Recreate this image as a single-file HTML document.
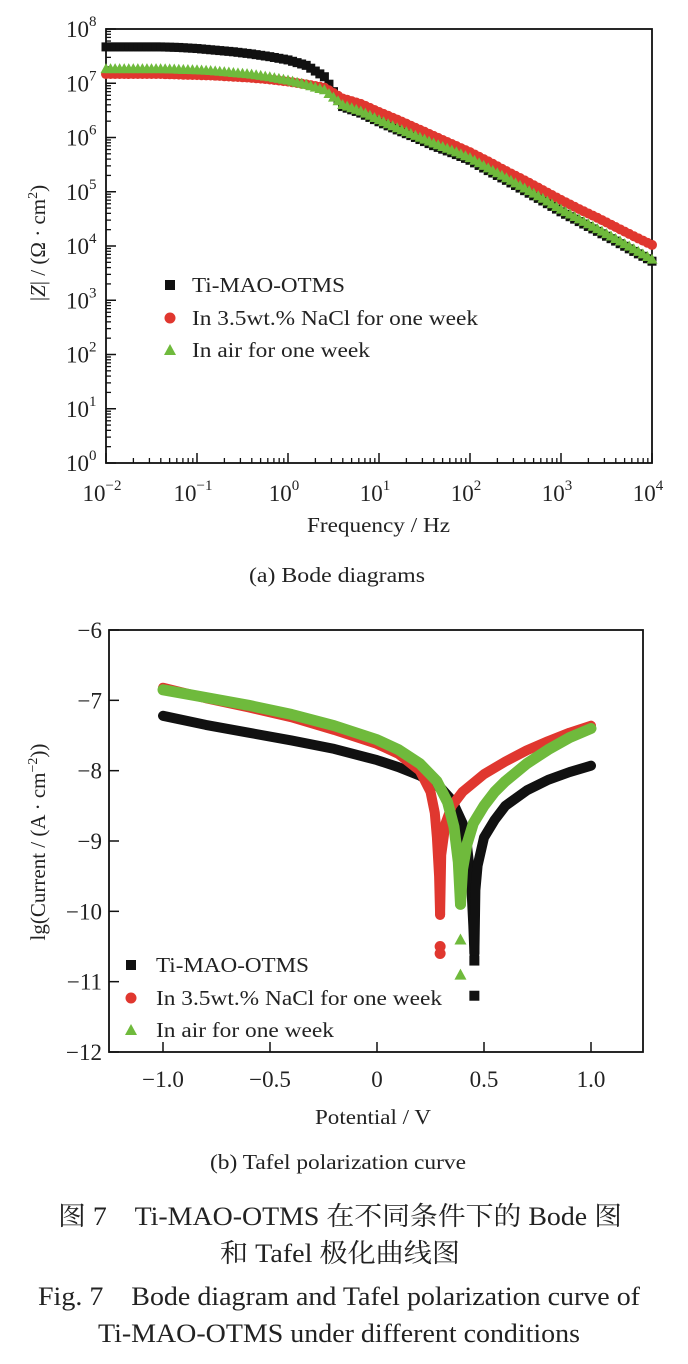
<!DOCTYPE html>
<html><head><meta charset="utf-8"><style>
html,body{margin:0;padding:0;background:#fff}
svg{display:block;font-family:"Liberation Serif","Noto Serif CJK SC",serif}
</style></head><body>
<svg id="fig" width="688" height="1364" viewBox="0 0 688 1364" xmlns="http://www.w3.org/2000/svg">
<g id="bode"></g>
<g id="tafel"></g>
<g fill="#222">
<text x="58" y="1225" font-size="26" textLength="564" lengthAdjust="spacingAndGlyphs">图 7　Ti-MAO-OTMS 在不同条件下的 Bode 图</text>
<text x="220" y="1262" font-size="26" textLength="240" lengthAdjust="spacingAndGlyphs">和 Tafel 极化曲线图</text>
<text x="38" y="1305" font-size="26" textLength="602" lengthAdjust="spacingAndGlyphs">Fig. 7　Bode diagram and Tafel polarization curve of</text>
<text x="98" y="1342" font-size="26" textLength="482" lengthAdjust="spacingAndGlyphs">Ti-MAO-OTMS under different conditions</text>
</g>
</svg>
<script>
// ---- Bode data (log10 f, log10 |Z|) ----
const bodeLogF = [-2,-1.8,-1.6,-1.4,-1.2,-1.0,-0.8,-0.6,-0.4,-0.2,0,0.2,0.4,0.6,0.8,1.0,1.2,1.4,1.6,1.8,2.0,2.2,2.4,2.6,2.8,3.0,3.2,3.4,3.6,3.8,4.0];
const bodeBlack = [7.67,7.67,7.67,7.67,7.66,7.64,7.61,7.58,7.54,7.49,7.43,7.33,7.12,6.57,6.45,6.29,6.14,6.0,5.85,5.72,5.58,5.39,5.21,5.02,4.83,4.63,4.45,4.27,4.09,3.90,3.72];
const bodeRed = [7.17,7.17,7.17,7.17,7.16,7.15,7.14,7.12,7.10,7.07,7.03,6.98,6.92,6.72,6.62,6.47,6.33,6.18,6.03,5.88,5.73,5.56,5.38,5.21,5.03,4.85,4.68,4.52,4.35,4.18,4.02];
const bodeGreen = [7.26,7.26,7.26,7.26,7.25,7.24,7.22,7.19,7.16,7.11,7.05,6.97,6.87,6.60,6.48,6.32,6.17,6.03,5.89,5.76,5.62,5.43,5.25,5.06,4.87,4.67,4.49,4.31,4.13,3.94,3.75];
const bodeXTicks = [-2,-1,0,1,2,3,4];
const bodeYTicks = [0,1,2,3,4,5,6,7,8];
// ---- Tafel data (potential V, lg current) ----
const tafelBlackCatE = [-1.0,-0.8,-0.6,-0.4,-0.2,0,0.1,0.2,0.3,0.35,0.4,0.42,0.44,0.45,0.455];
const tafelBlackCatI = [-7.22,-7.35,-7.46,-7.57,-7.69,-7.85,-7.95,-8.07,-8.25,-8.42,-8.75,-9.05,-9.6,-10.2,-10.6];
const tafelBlackAnE = [0.455,0.46,0.47,0.5,0.55,0.6,0.7,0.8,0.9,1.0];
const tafelBlackAnI = [-10.6,-9.7,-9.35,-8.95,-8.7,-8.5,-8.28,-8.13,-8.02,-7.93];
const tafelBlackOutE = [0.455,0.455];
const tafelBlackOutI = [-10.7,-11.2];
const tafelRedCatE = [-1.0,-0.8,-0.6,-0.4,-0.2,0,0.1,0.2,0.25,0.27,0.28,0.29,0.295];
const tafelRedCatI = [-6.82,-6.97,-7.1,-7.24,-7.42,-7.62,-7.76,-8.0,-8.3,-8.6,-8.95,-9.5,-10.05];
const tafelRedAnE = [0.295,0.3,0.32,0.35,0.4,0.5,0.6,0.7,0.8,0.9,1.0];
const tafelRedAnI = [-10.05,-9.2,-8.75,-8.5,-8.3,-8.05,-7.87,-7.71,-7.58,-7.46,-7.36];
const tafelRedOutE = [0.295,0.295];
const tafelRedOutI = [-10.5,-10.6];
const tafelGreenCatE = [-1.0,-0.8,-0.6,-0.4,-0.2,0,0.1,0.2,0.28,0.33,0.36,0.38,0.39];
const tafelGreenCatI = [-6.85,-6.96,-7.07,-7.2,-7.36,-7.56,-7.7,-7.9,-8.15,-8.45,-8.8,-9.3,-9.9];
const tafelGreenAnE = [0.39,0.4,0.42,0.45,0.5,0.55,0.6,0.7,0.8,0.9,1.0];
const tafelGreenAnI = [-9.9,-9.4,-9.05,-8.75,-8.5,-8.3,-8.15,-7.9,-7.7,-7.53,-7.4];
const tafelGreenOutE = [0.39,0.39];
const tafelGreenOutI = [-10.4,-10.9];
const tafelXTicks = [-1.0,-0.5,0,0.5,1.0];
const tafelXLabels = ["\u22121.0","\u22120.5","0","0.5","1.0"];
const tafelYTicks = [-6,-7,-8,-9,-10,-11,-12];

const NS="http://www.w3.org/2000/svg";
function mk(parent,tag,attrs,text){const e=document.createElementNS(NS,tag);for(const k in attrs)e.setAttribute(k,attrs[k]);if(text!==undefined)e.textContent=text;parent.appendChild(e);return e;}
const BLACK="#111",RED="#e0372f",GREEN="#6fba3c";

// ---------------- Bode ----------------
(function(){
const g=document.getElementById('bode');
const L=106,R=652,T=29,B=463;
const bx=v=>L+(v+2)/6*(R-L);
const by=v=>B-v/8*(B-T);
for(let d=-2;d<4;d++){for(let m=2;m<=9;m++){const x=bx(d+Math.log10(m));
const t=mk(g,'line',{x1:x,x2:x,y1:B,y2:B-5,stroke:'#111','stroke-width':1.3});

}}
for(let d=0;d<8;d++){for(let m=2;m<=9;m++){const y=by(d+Math.log10(m));
const t=mk(g,'line',{x1:L,x2:L+5,y1:y,y2:y,stroke:'#111','stroke-width':1.3});

}}
bodeXTicks.forEach(v=>{const x=bx(v);
const t=mk(g,'line',{x1:x,x2:x,y1:B,y2:B-10,stroke:'#111','stroke-width':1.5});


const lb=mk(g,'text',{x:x-4,y:B+38,'font-size':23,'text-anchor':'middle',fill:'#222'});


mk(lb,'tspan',{},'10');mk(lb,'tspan',{dy:-11,'font-size':15},v<0?'\u2212'+(-v):String(v));});
bodeYTicks.forEach(v=>{const y=by(v);
const t=mk(g,'line',{x1:L,x2:L+10,y1:y,y2:y,stroke:'#111','stroke-width':1.5});


const lb=mk(g,'text',{x:66,y:y+8,'font-size':23,fill:'#222'});


mk(lb,'tspan',{},'10');mk(lb,'tspan',{dy:-11,'font-size':15},String(v));});
const frame=mk(g,'rect',{x:L,y:T,width:R-L,height:B-T,fill:'none',stroke:'#111','stroke-width':1.8});


function series(arr,color,shape,name){
const sg=mk(g,'g',{});


arr.forEach((v,i)=>{const x=bx(bodeLogF[i]),y=by(v);let m;
if(shape==='sq')m=mk(sg,'rect',{x:x-4.5,y:y-4.5,width:9,height:9,fill:color});
else if(shape==='ci')m=mk(sg,'circle',{cx:x,cy:y,r:5,fill:color});
else m=mk(sg,'polygon',{points:`${x},${y-6} ${x-5.5},${y+4} ${x+5.5},${y+4}`,fill:color});


if(i<arr.length-1){const x2=bx(bodeLogF[i+1]),y2=by(arr[i+1]);const n=4;
for(let k=1;k<n;k++){const xx=x+(x2-x)*k/n,yy=y+(y2-y)*k/n;let mm;
if(shape==='sq')mm=mk(sg,'rect',{x:xx-4.5,y:yy-4.5,width:9,height:9,fill:color});
else if(shape==='ci')mm=mk(sg,'circle',{cx:xx,cy:yy,r:5,fill:color});
else mm=mk(sg,'polygon',{points:`${xx},${yy-6} ${xx-5.5},${yy+4} ${xx+5.5},${yy+4}`,fill:color});

}}});}
series(bodeBlack,BLACK,'sq','series-ti-mao-otms');
series(bodeRed,RED,'ci','series-nacl-one-week');
series(bodeGreen,GREEN,'tr','series-air-one-week');
const lg=mk(g,'g',{});


const items=[[BLACK,'sq','Ti-MAO-OTMS',285,153],[RED,'ci','In 3.5wt.% NaCl for one week',318,286],[GREEN,'tr','In air for one week',350,178]];
items.forEach(it=>{const x=170,y=it[3];
if(it[1]==='sq')mk(lg,'rect',{x:x-5,y:y-5,width:10,height:10,fill:it[0]});
else if(it[1]==='ci')mk(lg,'circle',{cx:x,cy:y,r:5.5,fill:it[0]});
else mk(lg,'polygon',{points:`${x},${y-6} ${x-6},${y+5} ${x+6},${y+5}`,fill:it[0]});
const t=mk(lg,'text',{x:192,y:y+7,'font-size':21,fill:'#222',textLength:it[4],lengthAdjust:'spacingAndGlyphs'},it[2]);

});
const yt=mk(g,'text',{transform:'translate(45,243) rotate(-90)','font-size':21,'text-anchor':'middle',fill:'#222'});


mk(yt,'tspan',{},'|');mk(yt,'tspan',{'font-style':'italic'},'Z');mk(yt,'tspan',{},'| / (Ω · cm');mk(yt,'tspan',{dy:-8,'font-size':14},'2');mk(yt,'tspan',{dy:8},')');
const xt=mk(g,'text',{x:307,y:532,'font-size':21,fill:'#222',textLength:143,lengthAdjust:'spacingAndGlyphs'},'Frequency / Hz');


const st=mk(g,'text',{x:249,y:582,'font-size':21,fill:'#222',textLength:176,lengthAdjust:'spacingAndGlyphs'},'(a) Bode diagrams');


})();

// ---------------- Tafel ----------------
(function(){
const g=document.getElementById('tafel');
const L=109,R=643,T=630,B=1052;
const tx=v=>163+(v+1)/2*(591-163);
const ty=v=>T+(-6-v)/6*(B-T);
tafelXTicks.forEach((v,i)=>{const x=tx(v);
const t=mk(g,'line',{x1:x,x2:x,y1:B,y2:B-10,stroke:'#111','stroke-width':1.5});


const lb=mk(g,'text',{x:x,y:B+35,'font-size':23,'text-anchor':'middle',fill:'#222'},tafelXLabels[i]);

});
tafelYTicks.forEach(v=>{const y=ty(v);
const t=mk(g,'line',{x1:L,x2:L+10,y1:y,y2:y,stroke:'#111','stroke-width':1.5});


const lb=mk(g,'text',{x:102,y:y+8,'font-size':23,'text-anchor':'end',fill:'#222'},'\u2212'+(-v));

});
const frame=mk(g,'rect',{x:L,y:T,width:R-L,height:B-T,fill:'none',stroke:'#111','stroke-width':1.8});


function branch(E,I,color,name,w){
const p=E.map((e,i)=>tx(e).toFixed(1)+','+ty(I[i]).toFixed(1)).join(' ');
const l=mk(g,'polyline',{points:p,fill:'none',stroke:color,'stroke-width':w,'stroke-linecap':'round','stroke-linejoin':'round'});

}
function outliers(E,I,color,shape,name){E.forEach((e,i)=>{const x=tx(e),y=ty(I[i]);let m;
if(shape==='sq')m=mk(g,'rect',{x:x-5,y:y-5,width:10,height:10,fill:color});
else if(shape==='ci')m=mk(g,'circle',{cx:x,cy:y,r:5.5,fill:color});
else m=mk(g,'polygon',{points:`${x},${y-6} ${x-6},${y+5} ${x+6},${y+5}`,fill:color});

});}
branch(tafelBlackCatE,tafelBlackCatI,BLACK,'black-cathodic-branch',10);
branch(tafelBlackAnE,tafelBlackAnI,BLACK,'black-anodic-branch',10);
outliers(tafelBlackOutE,tafelBlackOutI,BLACK,'sq','black-outlier-point');
branch(tafelRedCatE,tafelRedCatI,RED,'red-cathodic-branch',10);
branch(tafelRedAnE,tafelRedAnI,RED,'red-anodic-branch',10);
outliers(tafelRedOutE,tafelRedOutI,RED,'ci','red-outlier-point');
branch(tafelGreenCatE,tafelGreenCatI,GREEN,'green-cathodic-branch',11);
branch(tafelGreenAnE,tafelGreenAnI,GREEN,'green-anodic-branch',11);
outliers(tafelGreenOutE,tafelGreenOutI,GREEN,'tr','green-outlier-point');
const lg=mk(g,'g',{});


const items=[[BLACK,'sq','Ti-MAO-OTMS',965,153],[RED,'ci','In 3.5wt.% NaCl for one week',998,286],[GREEN,'tr','In air for one week',1030,178]];
items.forEach(it=>{const x=131,y=it[3];
if(it[1]==='sq')mk(lg,'rect',{x:x-5,y:y-5,width:10,height:10,fill:it[0]});
else if(it[1]==='ci')mk(lg,'circle',{cx:x,cy:y,r:5.5,fill:it[0]});
else mk(lg,'polygon',{points:`${x},${y-6} ${x-6},${y+5} ${x+6},${y+5}`,fill:it[0]});
const t=mk(lg,'text',{x:156,y:y+7,'font-size':21,fill:'#222',textLength:it[4],lengthAdjust:'spacingAndGlyphs'},it[2]);

});
const yt=mk(g,'text',{transform:'translate(45,842) rotate(-90)','font-size':21,'text-anchor':'middle',fill:'#222'});


mk(yt,'tspan',{},'lg(Current / (A · cm');mk(yt,'tspan',{dy:-8,'font-size':14},'\u22122');mk(yt,'tspan',{dy:8},'))');
const xt=mk(g,'text',{x:315,y:1124,'font-size':21,fill:'#222',textLength:116,lengthAdjust:'spacingAndGlyphs'},'Potential / V');


const st=mk(g,'text',{x:210,y:1169,'font-size':21,fill:'#222',textLength:256,lengthAdjust:'spacingAndGlyphs'},'(b) Tafel polarization curve');


})();
</script>
</body></html>
